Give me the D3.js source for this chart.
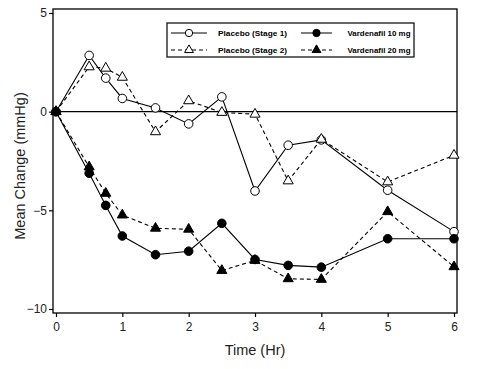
<!DOCTYPE html>
<html><head><meta charset="utf-8">
<script src="https://cdn.jsdelivr.net/npm/d3@7"></script>
<style>body{margin:0;background:#fff}svg{display:block}</style>
</head><body>
<script>
const times = [0, 0.5, 0.75, 1, 1.5, 2, 2.5, 3, 3.5, 4, 5, 6];
const placebo1 = [0, 2.85, 1.7, 0.67, 0.19, -0.62, 0.75, -4.02, -1.7, -1.43, -3.98, -6.08];
const placebo2 = [0, 2.27, 2.2, 1.74, -1.02, 0.55, -0.04, -0.13, -3.51, -1.4, -3.56, -2.21];
const vard10 = [0, -3.12, -4.75, -6.3, -7.25, -7.07, -5.66, -7.49, -7.79, -7.88, -6.44, -6.44];
const vard20 = [0, -2.8, -4.14, -5.24, -5.91, -5.96, -8.05, -7.54, -8.47, -8.5, -5.07, -7.86];
const xTicks = [0, 1, 2, 3, 4, 5, 6];
const yTicks = [5, 0, -5, -10];
const seriesNames = ["Placebo (Stage 1)", "Placebo (Stage 2)", "Vardenafil 10 mg", "Vardenafil 20 mg"];

const W = 496, H = 369;
const frame = {l: 53, r: 457, t: 9, b: 313};
const svg = d3.select("body").append("svg").attr("width", W).attr("height", H);
const x = d3.scaleLinear().domain([0, 6]).range([56, 454]);
const y = d3.scaleLinear().domain([-10, 5]).range([309, 13]);
const FONT = "Liberation Sans, Arial, sans-serif";

// frame
svg.append("rect").attr("x", frame.l).attr("y", frame.t).attr("width", frame.r - frame.l)
  .attr("height", frame.b - frame.t).attr("fill", "none").attr("stroke", "#000").attr("stroke-width", 1.3);

// axes
const xa = svg.append("g").attr("transform", `translate(0,${frame.b})`)
  .call(d3.axisBottom(x).tickValues(xTicks).tickSize(4).tickPadding(5).tickFormat(d3.format("d")));
const ya = svg.append("g").attr("transform", `translate(${frame.l},0)`)
  .call(d3.axisLeft(y).tickValues(yTicks).tickSize(4).tickPadding(2).tickFormat(d3.format("d")));
[xa, ya].forEach(a => {
  a.select(".domain").remove();
  a.selectAll("line").attr("stroke", "#000").attr("stroke-width", 1.2);
  a.selectAll("text").attr("font-family", FONT).attr("font-size", 12).attr("fill", "#222");
});

// zero line
svg.append("line").attr("x1", frame.l).attr("x2", frame.r).attr("y1", y(0)).attr("y2", y(0))
  .attr("stroke", "#000").attr("stroke-width", 1.2);

// labels
svg.append("text").attr("x", 255).attr("y", 355).attr("text-anchor", "middle")
  .attr("font-family", FONT).attr("font-size", 14.5).attr("fill", "#222").text("Time (Hr)");
svg.append("text").attr("transform", "translate(25,166) rotate(-90)").attr("text-anchor", "middle")
  .attr("font-family", FONT).attr("font-size", 14.5).attr("fill", "#222").text("Mean Change (mmHg)");

const series = [
  {name: seriesNames[0], vals: placebo1, dash: null, marker: "circle", fill: "#fff"},
  {name: seriesNames[1], vals: placebo2, dash: "4,3", marker: "triangle", fill: "#fff"},
  {name: seriesNames[2], vals: vard10, dash: null, marker: "circle", fill: "#000"},
  {name: seriesNames[3], vals: vard20, dash: "4,3", marker: "triangle", fill: "#000"}
];
const line = d3.line().x(d => x(d[0])).y(d => y(d[1]));
function symFor(marker, big) {
  return marker === "circle"
    ? d3.symbol().type(d3.symbolCircle).size(big ? 58 : 42)
    : d3.symbol().type(d3.symbolTriangle).size(big ? 44 : 34);
}

function drawMarker(g, s, cx, cy, big) {
  g.append("path").attr("d", symFor(s.marker, big)()).attr("transform", `translate(${cx},${cy})`)
    .attr("fill", s.fill).attr("stroke", "#000").attr("stroke-width", 1);
}

series.forEach(s => {
  const pts = times.map((t, i) => [t, s.vals[i]]);
  svg.append("path").attr("d", line(pts)).attr("fill", "none").attr("stroke", "#000")
    .attr("stroke-width", 1.1).attr("stroke-dasharray", s.dash);
  const g = svg.append("g");
  pts.forEach(p => drawMarker(g, s, x(p[0]), y(p[1]), true));
});

// legend
const lg = svg.append("g");
lg.append("rect").attr("x", 167).attr("y", 23).attr("width", 247).attr("height", 34)
  .attr("fill", "#fff").attr("stroke", "#000").attr("stroke-width", 1.2);
const pos = [[171, 33], [171, 50], [301, 33], [301, 50]];
series.forEach((s, i) => {
  const [lx, ly] = pos[i];
  const len = i < 2 ? 36 : 31;
  lg.append("line").attr("x1", lx).attr("x2", lx + len).attr("y1", ly).attr("y2", ly)
    .attr("stroke", "#000").attr("stroke-width", 1).attr("stroke-dasharray", s.dash);
  drawMarker(lg, s, lx + len / 2, ly, false);
  lg.append("text").attr("x", i < 2 ? 218 : 347.5).attr("y", ly + 2.5)
    .attr("font-family", FONT).attr("font-weight", "bold")
    .attr("font-size", 7.3).attr("fill", "#000")
    .attr("textLength", i < 2 ? 69 : 63).attr("lengthAdjust", "spacingAndGlyphs").text(s.name);
});
</script>
</body></html>
